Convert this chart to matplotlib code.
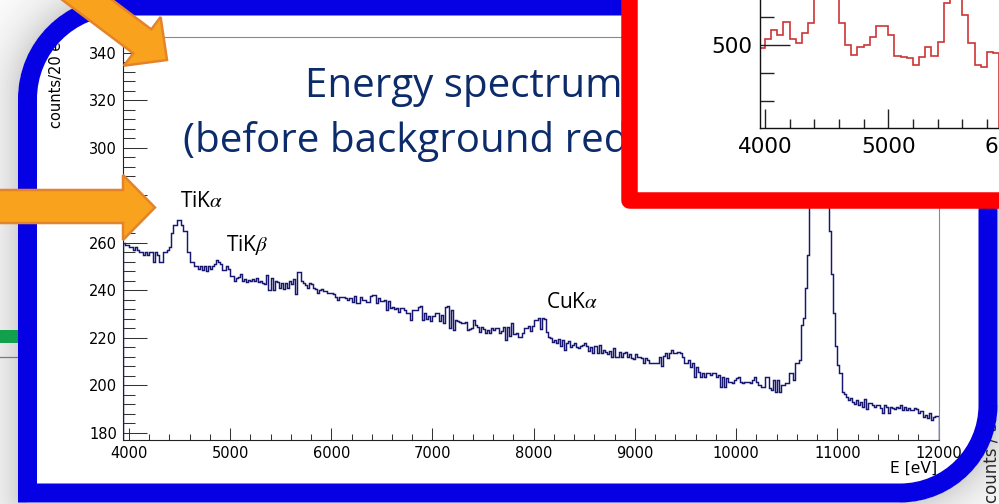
import numpy as np
import matplotlib
matplotlib.use("Agg")
import matplotlib.pyplot as plt
from matplotlib.path import Path
from matplotlib.patches import PathPatch, Polygon, Rectangle
from matplotlib.transforms import Bbox, TransformedBbox
from matplotlib.ticker import MultipleLocator

plt.rcParams["font.family"] = ["DejaVu Sans"]
plt.rcParams["mathtext.fontset"] = "stix"

# ---------------- main spectrum: 20 eV bins starting at 3940 eV ----------------
bin_width = 20
e_start = 3940
counts_ti = [260, 259, 259, 258, 258, 257,
             258, 257, 256, 256, 255, 256, 255, 256, 256, 252,
             256, 255, 252, 252, 256, 256, 257, 258,
             264, 267.5, 267.5, 269.6, 269.6, 267.5, 265, 265,
             256, 252, 252, 250, 250, 249, 250, 248.5, 250, 248, 250, 249,
             250, 251, 252.5, 252, 251, 248.5, 248.5, 250, 249, 246, 246, 244]
counts_5k = [245, 245.5, 247, 244, 244.5, 243.5, 244.3, 244, 244.5, 244,
             245, 243.5, 244, 243, 242.5, 246.5, 240, 245, 240, 244,
             243.5, 241, 243, 240.5, 243, 241, 244, 242.5, 244.5, 238.5,
             247.5, 247.8, 244, 243, 242, 241, 243, 242.5, 241, 240.5,
             239, 240, 240.5, 239.5, 239.5, 239, 238.7, 238.7, 238.5, 237.3,
             236, 237, 237.3, 237, 236.5, 235.9, 236.5]
counts_6k = [235, 237.5, 234.5, 234.5, 237, 236, 236, 235, 235, 237.5,
             238, 238, 234.5, 236.5, 235.5, 235.5, 236, 231.7, 235.5, 232.5,
             233, 232, 232.5, 231, 232.5, 232.5, 231.5, 230.5, 230.5, 227.5,
             231.7, 231.5, 231.5, 233.1, 233.5, 227.5, 230.3, 228, 229, 227,
             229, 230.5, 230.5, 227, 229.5, 226, 233, 233.5, 224, 231.5,
             223.2, 227.5, 227, 226.5, 226, 226, 226.5, 223.2]
counts_cu = [223.5, 224, 227.5, 225.5, 224.5, 222.5, 224.6, 223.5, 221.8, 223.2,
             221.8, 224, 223.2, 224, 224, 222, 223, 224.6, 219, 224.6,
             220.5, 226.1, 221.5, 221.8, 220.4, 220.4, 222, 224, 224, 225,
             223, 225, 227.5, 227.5, 228.2, 223.5, 228.2, 228, 222.5, 220.4,
             220, 218, 219, 217.6, 219.5, 216.5, 219, 214.8, 217.6, 218.5,
             216, 217, 217.6, 216.2, 215.5, 216.5, 217, 217.6]
counts_9k = [216.5, 214.5, 216, 213.4, 216.5, 213.4, 217, 213.4, 214.8, 214,
             213, 214.5, 212, 215.5, 212, 212, 214, 212, 213.4, 214,
             212, 213, 211.5, 211, 213, 212, 212, 211.5, 209.5, 211.5,
             210.6, 209.5, 209.2, 209.2, 209.2, 209.2, 212, 208, 212.5, 213.4,
             211.5, 213.5, 214.8, 213.4, 213.4, 214, 213.5, 212, 209.2, 209.5,
             210.6, 207.5, 209.2, 203.6, 207.8, 205.5, 203.6]
counts_10k = [205, 203.6, 205, 205, 204.5, 205, 205, 203.6, 204.3, 199.4,
              203.6, 199.4, 203, 201.5, 201.5, 200.8, 202.2, 202.9, 203.6, 201.5,
              200.8, 201.5, 201.3, 201.5, 200.8, 202.2, 203.6, 201.5, 200, 199.4,
              199.4, 203.6, 203.6, 199, 198, 202.2, 197.3, 202.2, 197.3, 200,
              200, 200.8, 200.8, 205, 205, 202.2, 209.2, 209.2, 210.6, 225.4,
              228.2, 240.8, 254.8]
counts_peak = [292, 338, 385, 428, 455, 462, 440, 398, 345, 296]
counts_tail = [265, 247, 230.3, 216.6, 208.5, 205, 197, 196.5, 195.2, 193.8,
               194.5, 193, 192, 193.8, 191.5, 193, 191, 194, 190, 192.4,
               192.5, 191.5, 191, 191.5, 191.5, 190.5, 188.2, 191.5, 191, 188.5,
               191, 190.5, 190, 191, 190.5, 191.5, 189.6, 190.9, 189.5, 190.5,
               189.6, 189.6, 190.5, 190, 188.5, 189, 186.7, 187.5, 186, 188.2,
               185.3, 186.7, 187.2, 187.2]

counts = np.concatenate([counts_ti, counts_5k, counts_6k, counts_cu,
                         counts_9k, counts_10k, counts_peak, counts_tail])
edges = e_start + bin_width * np.arange(len(counts) + 1)

x_ticks_major = [4000, 5000, 6000, 7000, 8000, 9000, 10000, 11000, 12000]
y_ticks_major = [180, 200, 220, 240, 260, 280, 300, 320, 340]

peak_labels = [("TiK$\\alpha$", 180, 207), ("TiK$\\beta$", 226, 251), ("CuK$\\alpha$", 546, 308)]

# ---------------- zoomed spectrum: 50 eV bins starting at 3950 eV ----------------
zoom_width = 50
zoom_start = 3950
zoom_counts = [488, 520, 554, 536, 584, 520, 508, 542, 580,
               720, 860, 900, 760,
               580, 500, 464, 494, 500, 528, 570, 570, 536, 460, 456, 452,
               428, 456, 494, 460, 512, 650, 720, 700, 608, 506, 428, 422,
               476, 472]
zoom_edges = zoom_start + zoom_width * np.arange(len(zoom_counts) + 1)

W, H = 999, 504
fig = plt.figure(figsize=(W / 100, H / 100), dpi=100)
fig.patch.set_facecolor("white")


def px_axes(z):
    ax = fig.add_axes([0, 0, 1, 1], zorder=z)
    ax.set_xlim(0, W)
    ax.set_ylim(H, 0)
    ax.axis("off")
    ax.patch.set_alpha(0)
    return ax


def frame_path(x0, y0, x1, y1, r1, r2):
    k = 0.5523
    verts = [(x0, y1), (x0, y0 + r1),
             (x0, y0 + r1 - k * r1), (x0 + r1 - k * r1, y0), (x0 + r1, y0),
             (x1, y0), (x1, y1 - r2),
             (x1, y1 - r2 + k * r2), (x1 - r2 + k * r2, y1), (x1 - r2, y1),
             (x0, y1), (x0, y1)]
    codes = [Path.MOVETO, Path.LINETO, Path.CURVE4, Path.CURVE4, Path.CURVE4,
             Path.LINETO, Path.LINETO, Path.CURVE4, Path.CURVE4, Path.CURVE4,
             Path.LINETO, Path.CLOSEPOLY]
    return Path(verts, codes)


# slide frame geometry (centre line of the blue stroke, pixels)
fx0, fy0, fx1, fy1, fr1, fr2 = 27.5, 6.0, 988.0, 493.0, 93.0, 88.0
stroke_px = 19.0

# ---------------- background: soft shadow outside the slide frame ----------------
bg = px_axes(0)
yy, xx = np.mgrid[0:H, 0:W] + 0.5
dx = np.maximum.reduce([fx0 - xx, np.zeros_like(xx), xx - fx1])
dy = np.maximum.reduce([fy0 - yy, np.zeros_like(yy), yy - fy1])
dist = np.hypot(dx, dy)
tl = (xx < fx0 + fr1) & (yy < fy0 + fr1)
dist[tl] = np.maximum(np.hypot(xx[tl] - (fx0 + fr1), yy[tl] - (fy0 + fr1)) - fr1, 0)
br = (xx > fx1 - fr2) & (yy > fy1 - fr2)
dist[br] = np.maximum(np.hypot(xx[br] - (fx1 - fr2), yy[br] - (fy1 - fr2)) - fr2, 0)
outer = dist - stroke_px / 2
shade = np.where(outer > 0, 1 - 0.17 * np.exp(-outer / 25.0), 1.0)
bg.imshow(shade, extent=(0, W, H, 0), cmap="gray", vmin=0, vmax=1,
          interpolation="bilinear", aspect="auto")
bg.set_xlim(0, W)
bg.set_ylim(H, 0)
bg.add_patch(Rectangle((0, 330), 19, 13, facecolor="#12a04c", edgecolor="none"))
bg.plot([0, 19], [356.5, 356.5], color="#7a7a7a", lw=0.9)
bg.text(992, 503, "counts / 32 eV", rotation=90, ha="center", va="bottom",
        fontsize=12, color="#2a2a2a")
bg.text(57, 128, "counts/20 eV", rotation=90, ha="center", va="bottom",
        fontsize=10.5, color="black")
bg.text(937, 473, "E [eV]", ha="right", va="baseline", fontsize=11.2, color="black")

# ---------------- main histogram ----------------
L, R, T, B = 122.7, 938.7, 36.7, 440.0
ax = fig.add_axes([L / W, 1 - B / H, (R - L) / W, (B - T) / H], zorder=1)
ax.patch.set_alpha(0)
ax.stairs(counts, edges, color="#17176f", lw=1.05)
ax.set_xlim(3940, 12000)
ax.set_ylim(176.93, 346.7)
ax.set_xticks(x_ticks_major)
ax.set_yticks(y_ticks_major)
ax.xaxis.set_minor_locator(MultipleLocator(200))
ax.yaxis.set_minor_locator(MultipleLocator(4))
ax.tick_params(axis="x", which="major", direction="in", length=8.6, width=0.75,
               pad=4.3, labelsize=10.5, colors="black")
ax.tick_params(axis="x", which="minor", direction="in", length=4.3, width=0.75)
ax.tick_params(axis="y", which="major", direction="in", length=17.3, width=0.75,
               pad=4.1, labelsize=10.5, colors="black")
ax.tick_params(axis="y", which="minor", direction="in", length=8.6, width=0.75)
ax.tick_params(which="both", top=False, right=False, color="#333333")
for side in ("left", "bottom"):
    ax.spines[side].set_color("#222222")
    ax.spines[side].set_linewidth(0.8)
for side in ("top", "right"):
    ax.spines[side].set_color("#8a8a8a")
    ax.spines[side].set_linewidth(0.8)

# ---------------- foreground: frame, title, labels, arrows ----------------
fg = px_axes(2)
fg.add_patch(PathPatch(frame_path(fx0, fy0, fx1, fy1, fr1, fr2), fill=False,
                       edgecolor="#0600e4", lw=stroke_px * 0.72,
                       joinstyle="miter", capstyle="butt"))

# the title runs underneath the red panel; clip it at the panel's inner edge
title_clip = TransformedBbox(Bbox([[0, 0], [637, H]]), fg.transData)
title_color = "#0c2b6b"
for txt, tx, ty in [("Energy spectrum", 305, 97),
                    ("(before background reduction)", 183, 152)]:
    t = fg.text(tx, ty, txt, ha="left", va="baseline", family="Open Sans",
                fontsize=29.0, color=title_color)
    t.set_clip_box(title_clip)
    t.set_clip_on(True)

for txt, px, py in peak_labels:
    fg.text(px, py, txt, ha="left", va="baseline", family="Open Sans",
            fontsize=15, color="black")

orange_fc, orange_ec = "#f8a21e", "#e5832a"
# horizontal arrow
fg.add_patch(Polygon([(-5, 190), (123, 190), (123, 175), (155, 207.5),
                      (123, 240), (123, 223), (-5, 223)], closed=True,
                     facecolor=orange_fc, edgecolor=orange_ec, lw=1.8,
                     joinstyle="miter"))
# diagonal arrow
ang = np.deg2rad(37)
d = np.array([np.cos(ang), np.sin(ang)])
n = np.array([-np.sin(ang), np.cos(ang)])
tip = np.array([167.0, 60.0])
base = tip - 31 * d
tail = base - 130 * d
pts = [tail + 15 * n, base + 15 * n, base + 30.5 * n, tip,
       base - 30.5 * n, base - 15 * n, tail - 15 * n]
fg.add_patch(Polygon(pts, closed=True, facecolor=orange_fc, edgecolor=orange_ec,
                     lw=1.8, joinstyle="miter"))

# ---------------- inset panel with red frame ----------------
red = px_axes(3)
red.add_patch(Rectangle((628.5, -60), 500, 260, facecolor="white",
                        edgecolor="#ff0000", lw=16.5 * 0.72, joinstyle="round"))

iL, iB, iR, iT = 760.0, 127.7, 1135.0, -40.0
axi = fig.add_axes([iL / W, 1 - iB / H, (iR - iL) / W, (iB - iT) / H], zorder=4)
axi.patch.set_alpha(0)
axi.stairs(zoom_counts, zoom_edges, color="#cc3535", lw=1.2)
axi.set_xlim(3959.6, 6991.8)
axi.set_ylim(202.5, 805.7)
axi.set_xticks([4000, 5000, 6000, 7000])
axi.set_yticks([500])
axi.xaxis.set_minor_locator(MultipleLocator(200))
axi.yaxis.set_minor_locator(MultipleLocator(100))
axi.tick_params(axis="x", which="major", direction="in", length=13.5, width=1.0,
                pad=6.7, labelsize=15.5)
axi.tick_params(axis="x", which="minor", direction="in", length=6.3, width=1.0)
axi.tick_params(axis="y", which="major", direction="in", length=21.6, width=1.0,
                pad=5.8, labelsize=15.5)
axi.tick_params(axis="y", which="minor", direction="in", length=10, width=1.0)
axi.tick_params(which="both", top=False, right=False, color="#222222")
for side in ("top", "right"):
    axi.spines[side].set_visible(False)
for side in ("left", "bottom"):
    axi.spines[side].set_color("#111111")
    axi.spines[side].set_linewidth(1.0)

fig.savefig("out.png", dpi=100)
